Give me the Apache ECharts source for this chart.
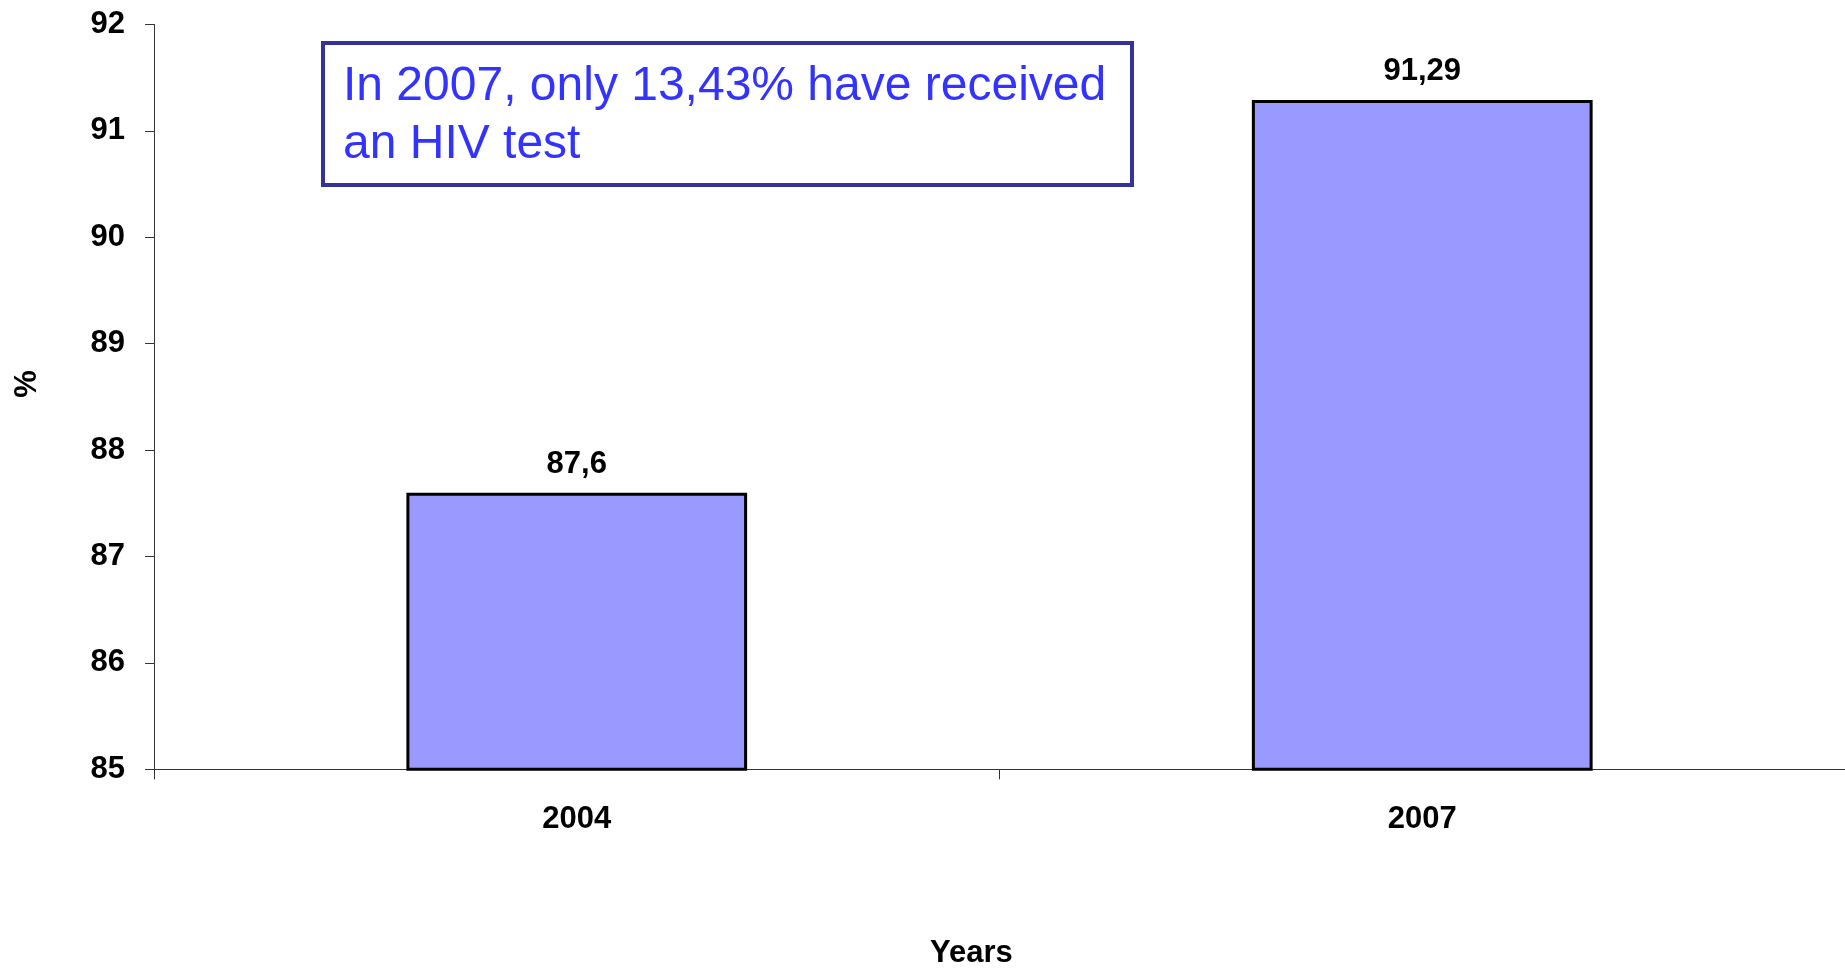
<!DOCTYPE html>
<html>
<head>
<meta charset="utf-8">
<script src="https://cdn.jsdelivr.net/npm/echarts@6/dist/echarts.min.js"></script>
<style>
html,body{margin:0;padding:0;background:#fff;}
#chart{width:1845px;height:973px;}
</style>
</head>
<body>
<div id="chart"></div>
<script>
const categories = ['2004', '2007'];
const values = [87.6, 91.29];
const yMin = 85, yMax = 92, yStep = 1;
const xTitle = 'Years';
const yTitle = '%';
const noteLines = ['In 2007, only 13,43% have received', 'an HIV test'];

const FONT = '"Liberation Sans", Arial, sans-serif';
const chart = echarts.init(document.getElementById('chart'), null, {renderer: 'canvas'});
chart.setOption({
  animation: false,
  backgroundColor: '#ffffff',
  grid: {left: 154, top: 24.5, right: -3, bottom: 203.7, containLabel: false},
  xAxis: {
    type: 'category',
    data: categories,
    axisLine: {show: true, lineStyle: {color: '#333', width: 1}},
    axisTick: {show: true, length: 10, lineStyle: {color: '#333', width: 1}},
    axisLabel: {margin: 35, color: '#000', fontFamily: FONT, fontWeight: 'bold', fontSize: 31}
  },
  yAxis: {
    type: 'value',
    min: yMin, max: yMax, interval: yStep,
    axisLine: {show: true, lineStyle: {color: '#333', width: 1}},
    axisTick: {show: true, length: 9, lineStyle: {color: '#333', width: 1}},
    splitLine: {show: false},
    axisLabel: {margin: 29, color: '#000', fontFamily: FONT, fontWeight: 'bold', fontSize: 31}
  },
  series: [{
    type: 'bar',
    data: values,
    barWidth: '40.3%',
    itemStyle: {color: '#9999FF', borderColor: '#000', borderWidth: 3},
    label: {
      show: true, position: 'top', distance: 13,
      color: '#000', fontFamily: FONT, fontWeight: 'bold', fontSize: 31,
      formatter: p => String(p.value).replace('.', ',')
    }
  }],
  graphic: [
    {
      type: 'text', left: 930, top: 938,
      style: {text: xTitle, fill: '#000', font: 'bold 31px ' + FONT}
    },
    {
      type: 'text', x: 27, y: 384, rotation: Math.PI / 2,
      style: {text: yTitle, fill: '#000', font: 'bold 31px ' + FONT, textAlign: 'center', textVerticalAlign: 'middle'}
    },
    {
      type: 'rect', shape: {x: 323, y: 43, width: 809, height: 142},
      style: {fill: '#fff', stroke: '#333399', lineWidth: 4}, z: 10
    },
    {
      type: 'text', x: 343, y: 58, z: 11,
      style: {text: noteLines.join('\n'), fill: '#3333FF', font: '48px ' + FONT, lineHeight: 57.6, textVerticalAlign: 'top'}
    }
  ]
});
</script>
</body>
</html>
